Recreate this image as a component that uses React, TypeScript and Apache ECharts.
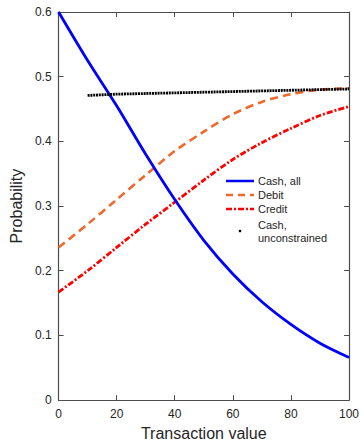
import React, { useEffect, useRef } from "react";
import * as echarts from "echarts";

const xValues = [0, 10, 20, 30, 40, 50, 60, 70, 80, 90, 100];
const cashAll = [0.6, 0.525, 0.455, 0.38, 0.31, 0.247, 0.195, 0.152, 0.117, 0.088, 0.066];
const debit = [0.236, 0.272, 0.31, 0.348, 0.385, 0.415, 0.442, 0.461, 0.473, 0.48, 0.482];
const credit = [0.167, 0.2, 0.236, 0.272, 0.306, 0.34, 0.372, 0.398, 0.42, 0.44, 0.454];
const unconX = [10, 20, 30, 40, 50, 60, 70, 80, 90, 100];
const unconY = [0.471, 0.473, 0.474, 0.475, 0.476, 0.477, 0.478, 0.479, 0.48, 0.481];
const xTicks = [0, 20, 40, 60, 80, 100];
const yTicks = [0, 0.1, 0.2, 0.3, 0.4, 0.5, 0.6];

const FONT = "Liberation Sans, Arial, Helvetica, sans-serif";
const AXIS_COLOR = "#4d4d4d";
const TEXT_COLOR = "#262626";
const BLUE = "#0000ff";
const ORANGE = "#ec6a2e";
const RED = "#ff0000";

export default function App() {
  const ref = useRef<HTMLDivElement>(null);
  useEffect(() => {
    if (!ref.current) return;
    const chart = echarts.init(ref.current, undefined, { renderer: "svg" });
    const pair = (xs: number[], ys: number[]) => xs.map((x, i) => [x, ys[i]]);
    const axisCommon = {
      axisLine: { show: true, onZero: false, lineStyle: { color: AXIS_COLOR, width: 1.2 } },
      axisTick: { show: true, inside: true, length: 5, lineStyle: { color: AXIS_COLOR, width: 1 } },
      splitLine: { show: false },
    };
    const legendX = 226;
    const legendLen = 28;
    const textX = 258;
    const legendRows = [181, 195, 209];
    chart.setOption({
      animation: false,
      textStyle: { fontFamily: FONT },
      grid: { left: 57, right: 12, top: 12, bottom: 39, containLabel: false },
      xAxis: [
        {
          type: "value",
          min: 0,
          max: 100,
          interval: 20,
          position: "bottom",
          name: "Transaction value",
          nameLocation: "middle",
          nameGap: 24,
          nameTextStyle: { fontSize: 16, color: TEXT_COLOR, fontFamily: FONT },
          axisLabel: {
            color: TEXT_COLOR,
            fontSize: 12,
            fontFamily: FONT,
            margin: 8,
            formatter: (v: number) => (xTicks.includes(v) ? String(v) : ""),
          },
          ...axisCommon,
        },
        {
          type: "value",
          min: 0,
          max: 100,
          interval: 20,
          position: "top",
          axisLabel: { show: false },
          ...axisCommon,
        },
      ],
      yAxis: [
        {
          type: "value",
          min: 0,
          max: 0.6,
          interval: 0.1,
          position: "left",
          name: "Probability",
          nameLocation: "middle",
          nameGap: 32,
          nameTextStyle: { fontSize: 16, color: TEXT_COLOR, fontFamily: FONT },
          axisLabel: {
            color: TEXT_COLOR,
            fontSize: 12,
            fontFamily: FONT,
            margin: 7,
            formatter: (v: number) => {
              const r = Math.round(v * 10) / 10;
              return yTicks.includes(r) ? String(r) : "";
            },
          },
          ...axisCommon,
        },
        {
          type: "value",
          min: 0,
          max: 0.6,
          interval: 0.1,
          position: "right",
          axisLabel: { show: false },
          ...axisCommon,
        },
      ],
      series: [
        {
          name: "Cash, all",
          type: "line",
          data: pair(xValues, cashAll),
          smooth: 0.3,
          showSymbol: false,
          lineStyle: { color: BLUE, width: 2.8 },
          z: 3,
        },
        {
          name: "Debit",
          type: "line",
          data: pair(xValues, debit),
          smooth: 0.3,
          showSymbol: false,
          lineStyle: { color: ORANGE, width: 2.6, type: [8, 5] },
          z: 2,
        },
        {
          name: "Credit",
          type: "line",
          data: pair(xValues, credit),
          smooth: 0.3,
          showSymbol: false,
          lineStyle: { color: RED, width: 2.8, type: [6, 2, 2, 2] },
          z: 2,
        },
        {
          name: "Cash, unconstrained",
          type: "line",
          data: pair(unconX, unconY),
          smooth: false,
          showSymbol: false,
          lineStyle: { color: "#000000", width: 2.8, type: [2, 0.8] },
          z: 4,
        },
      ],
      graphic: [
        {
          type: "line",
          shape: { x1: legendX, y1: legendRows[0], x2: legendX + legendLen, y2: legendRows[0] },
          style: { stroke: BLUE, lineWidth: 2.5 },
        },
        {
          type: "line",
          shape: { x1: legendX, y1: legendRows[1], x2: legendX + legendLen, y2: legendRows[1] },
          style: { stroke: ORANGE, lineWidth: 2.5, lineDash: [7, 5] },
        },
        {
          type: "line",
          shape: { x1: legendX, y1: legendRows[2], x2: legendX + legendLen, y2: legendRows[2] },
          style: { stroke: RED, lineWidth: 2.5, lineDash: [6, 2, 2, 2] },
        },
        {
          type: "circle",
          shape: { cx: legendX + legendLen / 2, cy: 231, r: 1.3 },
          style: { fill: "#000000" },
        },
        {
          type: "text",
          x: textX,
          y: legendRows[0],
          style: { text: "Cash, all", fill: TEXT_COLOR, font: `11px ${FONT}`, verticalAlign: "middle" },
        },
        {
          type: "text",
          x: textX,
          y: legendRows[1],
          style: { text: "Debit", fill: TEXT_COLOR, font: `11px ${FONT}`, verticalAlign: "middle" },
        },
        {
          type: "text",
          x: textX,
          y: legendRows[2],
          style: { text: "Credit", fill: TEXT_COLOR, font: `11px ${FONT}`, verticalAlign: "middle" },
        },
        {
          type: "text",
          x: textX,
          y: 225,
          style: { text: "Cash,", fill: TEXT_COLOR, font: `11px ${FONT}`, verticalAlign: "middle" },
        },
        {
          type: "text",
          x: textX,
          y: 238,
          style: { text: "unconstrained", fill: TEXT_COLOR, font: `11px ${FONT}`, verticalAlign: "middle" },
        },
      ],
    });
    return () => chart.dispose();
  }, []);
  return (
    <div
      ref={ref}
      style={{ width: 362, height: 446, position: "absolute", left: 0, top: 0, background: "#fff" }}
    />
  );
}
